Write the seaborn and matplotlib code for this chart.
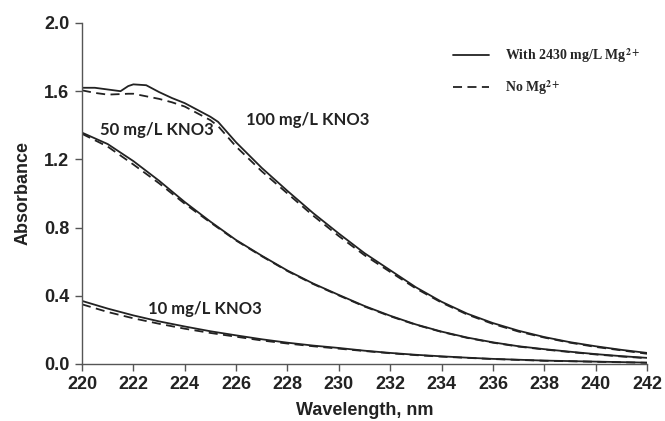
import matplotlib
matplotlib.use("Agg")
import matplotlib.pyplot as plt
import seaborn as sns
import pandas as pd
from matplotlib.lines import Line2D

# wavelengths (nm) and absorbance
wl_100 = [220, 220.5, 221, 221.5, 221.8, 222, 222.5, 223, 223.5, 224, 225, 225.3, 226, 227, 228, 229, 230,
          231, 232, 233, 234, 235, 236, 237, 238, 239, 240, 241, 242]
abs_100_mg = [1.62, 1.62, 1.61, 1.60, 1.63, 1.64, 1.635, 1.595, 1.56, 1.53, 1.45, 1.42, 1.30, 1.15, 1.015, 0.885, 0.765,
              0.65, 0.55, 0.45, 0.365, 0.295, 0.24, 0.195, 0.158, 0.128, 0.104, 0.083, 0.065]
abs_100_no = [1.605, 1.59, 1.58, 1.583, 1.585, 1.585, 1.57, 1.555, 1.535, 1.51, 1.43, 1.395, 1.275, 1.13, 1.0, 0.87, 0.75,
              0.638, 0.54, 0.443, 0.36, 0.29, 0.235, 0.19, 0.155, 0.125, 0.10, 0.08, 0.06]

wl = [220, 221, 222, 223, 224, 225, 226, 227, 228, 229, 230,
      231, 232, 233, 234, 235, 236, 237, 238, 239, 240, 241, 242]
abs_50_mg = [1.357, 1.29, 1.19, 1.075, 0.95, 0.835, 0.727, 0.635, 0.548, 0.472, 0.405,
             0.34, 0.283, 0.232, 0.19, 0.155, 0.127, 0.104, 0.087, 0.072, 0.058, 0.046, 0.036]
abs_50_no = [1.35, 1.275, 1.17, 1.06, 0.94, 0.83, 0.724, 0.632, 0.545, 0.469, 0.402,
             0.337, 0.28, 0.23, 0.188, 0.153, 0.125, 0.102, 0.085, 0.07, 0.056, 0.044, 0.034]
abs_10_mg = [0.37, 0.325, 0.285, 0.25, 0.22, 0.192, 0.168, 0.145, 0.125, 0.108, 0.094,
             0.078, 0.065, 0.054, 0.045, 0.037, 0.03, 0.025, 0.02, 0.017, 0.014, 0.011, 0.008]
abs_10_no = [0.35, 0.305, 0.268, 0.236, 0.207, 0.182, 0.16, 0.138, 0.12, 0.104, 0.09,
             0.076, 0.063, 0.052, 0.043, 0.036, 0.029, 0.024, 0.019, 0.016, 0.013, 0.01, 0.007]

rows = []
for x, a, b in zip(wl_100, abs_100_mg, abs_100_no):
    rows.append((x, a, '100', 'mg'))
    rows.append((x, b, '100', 'no'))
for x, a, b, c, d in zip(wl, abs_50_mg, abs_50_no, abs_10_mg, abs_10_no):
    rows.append((x, a, '50', 'mg'))
    rows.append((x, b, '50', 'no'))
    rows.append((x, c, '10', 'mg'))
    rows.append((x, d, '10', 'no'))
df = pd.DataFrame(rows, columns=['wavelength', 'absorbance', 'conc', 'cond'])

sns.set_style('ticks')
plt.rcParams['font.family'] = ['Liberation Sans', 'DejaVu Sans']
plt.rcParams['mathtext.fontset'] = 'stix'

fig = plt.figure(figsize=(6.65, 4.21), dpi=100)
ax = fig.add_axes([0.1233, 0.1354, 0.8497, 0.8100])

line_col = '#222222'
for conc in ['100', '50', '10']:
    for cond, ls in [('mg', '-'), ('no', (0, (5, 3)))]:
        sub = df[(df.conc == conc) & (df.cond == cond)]
        sns.lineplot(data=sub, x='wavelength', y='absorbance', ax=ax, color=line_col,
                     linewidth=1.3, linestyle=ls, legend=False, sort=True)

ax.set_xlim(220, 242)
ax.set_ylim(0, 2.0)
ax.set_xticks(range(220, 243, 2))
ax.set_yticks([0.0, 0.4, 0.8, 1.2, 1.6, 2.0])
ax.set_yticklabels(['0.0', '0.4', '0.8', '1.2', '1.6', '2.0'])
for lab in ax.get_xticklabels() + ax.get_yticklabels():
    lab.set_fontweight('bold')
    lab.set_fontsize(13)
    lab.set_color('#222222')
ax.tick_params(axis='both', direction='out', length=5, width=1, color='#555555', pad=4)
ax.set_xlabel('Wavelength, nm', fontsize=13, fontweight='bold', color='#222222')
ax.set_ylabel('Absorbance', fontsize=13, fontweight='bold', color='#222222')
ax.xaxis.set_label_coords(0.5, -0.11)
ax.yaxis.set_label_coords(-0.09, 0.5)
sns.despine(ax=ax)
for s in ['left', 'bottom']:
    ax.spines[s].set_color('#555555')
    ax.spines[s].set_linewidth(1)

ann_font = ['Lato', 'DejaVu Sans']
ax.text(226.39, 1.43, '100 mg/L KNO3', fontsize=12, family=ann_font, fontweight='bold', color='#222222', va='center')
ax.text(220.70, 1.372, '50 mg/L KNO3', fontsize=12, family=ann_font, fontweight='bold', color='#222222', va='center')
ax.text(222.57, 0.323, '10 mg/L KNO3', fontsize=12, family=ann_font, fontweight='bold', color='#222222', va='center')

handles = [Line2D([0], [0], color=line_col, lw=1.3, ls='-'),
           Line2D([0], [0], color=line_col, lw=1.3, ls=(0, (5, 3)))]
labels = [r'With 2430 mg/L Mg$^{\mathbf{2+}}$', r'No Mg$^{\mathbf{2+}}$']
ax.legend(handles, labels, loc='upper left', bbox_to_anchor=(0.634, 0.97), frameon=False,
          prop={'family': 'Liberation Serif', 'weight': 'bold', 'size': 10},
          handlelength=2.6, handletextpad=1.15, labelspacing=1.0)

fig.savefig('out.png', dpi=100)
